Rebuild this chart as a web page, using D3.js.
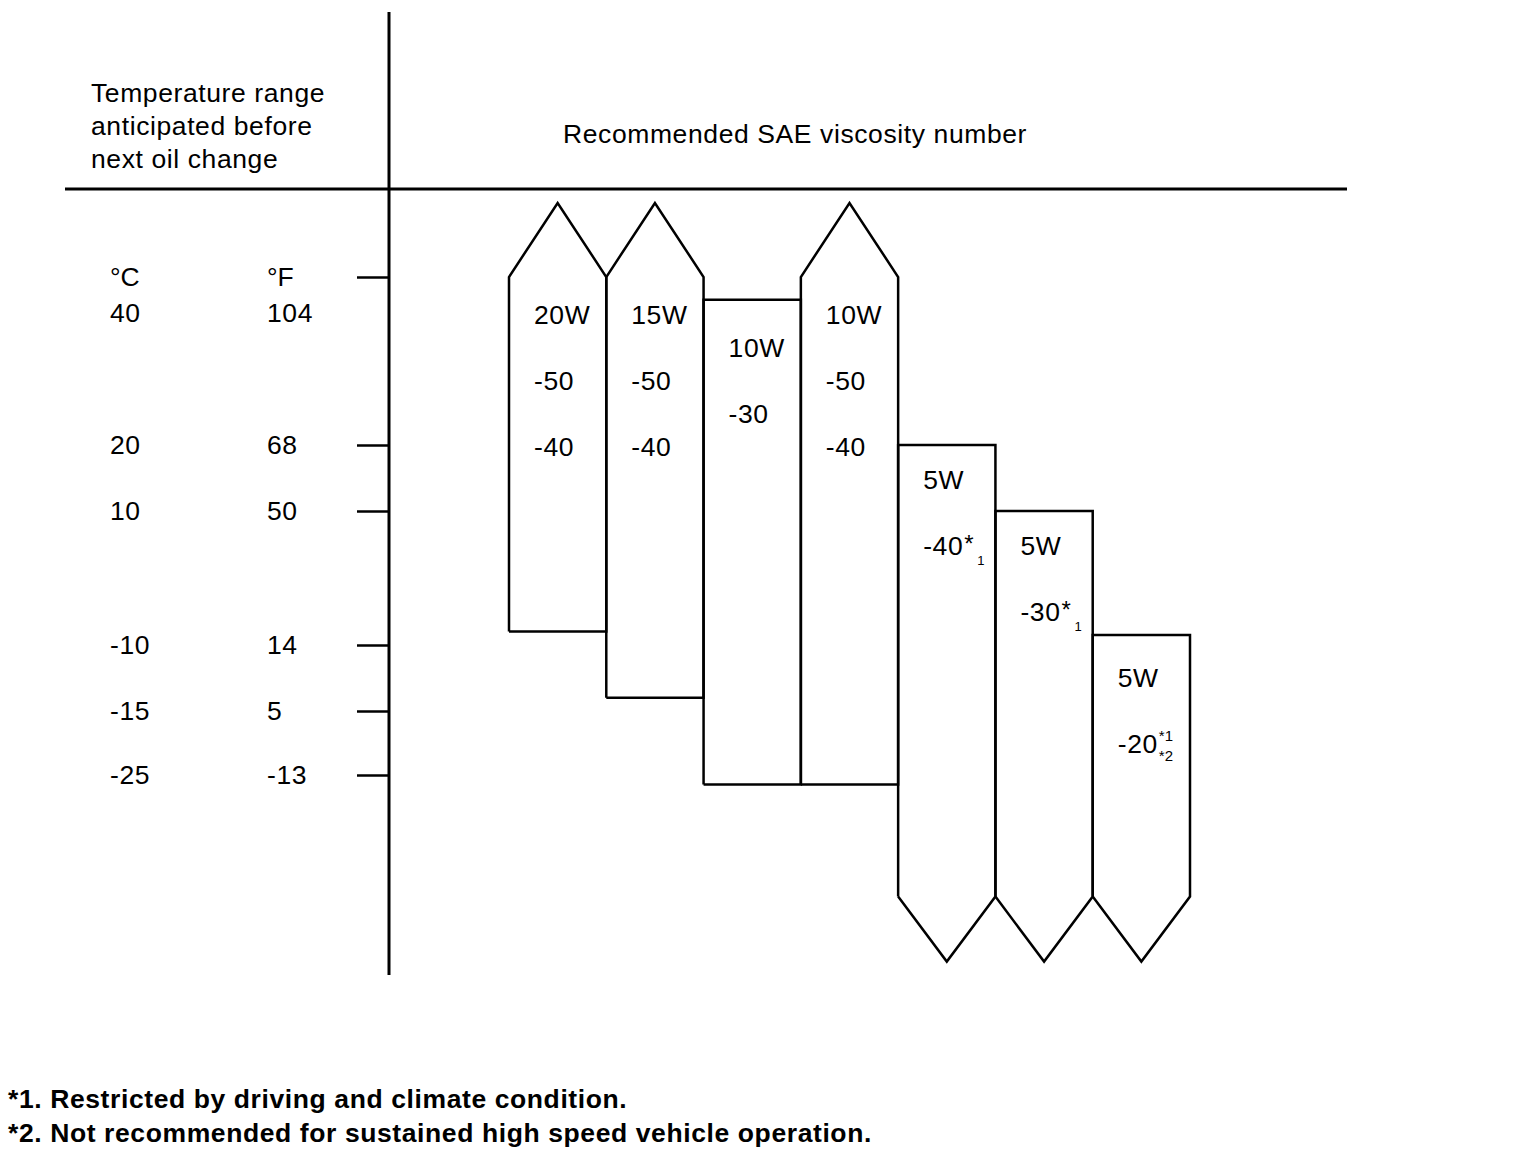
<!DOCTYPE html>
<html>
<head>
<meta charset="utf-8">
<script src="https://cdn.jsdelivr.net/npm/d3@7"></script>
<style>
  body { margin: 0; background: #fff; }
  text { font-family: "Liberation Sans", Arial, sans-serif; fill: #000; }
</style>
</head>
<body>
<div id="chart-area"></div>
<script>
/*
*    oil viscosity chart
*/
// temperature ticks
var celsius = [40, 20, 10, -10, -15, -25];
var fahrenheit = [104, 68, 50, 14, 5, -13];

// one column per oil grade
var grades = ["20W", "15W", "10W", "10W", "5W", "5W", "5W"];
var suffixes = [["-50", "-40"], ["-50", "-40"], ["-30"], ["-50", "-40"], ["-40"], ["-30"], ["-20"]];
var supNotes = ["", "", "", "", "*", "*", "*1"];
var subNotes = ["", "", "", "", "1", "1", "*2"];
var tempTop = [40, 40, 37.3, 40, 20, 10, -8.5];
var tempBottom = [-8, -14, -26.5, -26.5, -44, -44, -44];
var openTop = [true, true, false, true, false, false, false];
var openBottom = [false, false, false, false, true, true, true];

var headerLines = ["Temperature range", "anticipated before", "next oil change"];
var footnotes = ["*1. Restricted by driving and climate condition.",
  "*2. Not recommended for sustained high speed vehicle operation."];

var width = 1536, height = 1150;
var svg = d3.select("#chart-area")
  .append("svg")
    .attr("width", width)
    .attr("height", height);

// piecewise scale, the printed axis is not linear
var y = d3.scaleLinear()
  .domain(celsius)
  .range([277, 445, 511, 645, 711, 775]);

var x = d3.scaleBand()
  .domain(d3.range(grades.length))
  .range([509, 1190])
  .paddingInner(0);

var axisX = 389, lineH = 33, arrowTop = 74, arrowBottom = 65;

// frame lines
svg.append("line")
  .attr("x1", axisX).attr("x2", axisX)
  .attr("y1", 12).attr("y2", 975)
  .attr("stroke", "black").attr("stroke-width", 3);
svg.append("line")
  .attr("x1", 65).attr("x2", 1347)
  .attr("y1", 189).attr("y2", 189)
  .attr("stroke", "black").attr("stroke-width", 3);

// ticks
var yAxisCall = d3.axisLeft(y).tickValues(celsius).tickSize(32).tickFormat("");
var yAxisGroup = svg.append("g")
  .attr("transform", "translate(" + axisX + ",0)")
  .call(yAxisCall);
yAxisGroup.select(".domain").remove();
yAxisGroup.selectAll(".tick line").attr("stroke", "black").attr("stroke-width", 2.5);

var fontSize = "26.5px", spacing = "0.6px";

// header text
svg.selectAll(".header").data(headerLines).enter().append("text")
  .attr("class", "header")
  .attr("x", 91)
  .attr("y", (d, i) => 102 + i * lineH)
  .attr("font-size", fontSize)
  .attr("letter-spacing", spacing)
  .text(d => d);

svg.append("text")
  .attr("x", 563)
  .attr("y", 143)
  .attr("font-size", fontSize)
  .attr("letter-spacing", spacing)
  .text("Recommended SAE viscosity number");

// unit labels over the top tick
svg.append("text").attr("x", 110).attr("y", y(40)).attr("dy", "0.35em")
  .attr("font-size", fontSize).text("°C");
svg.append("text").attr("x", 267).attr("y", y(40)).attr("dy", "0.35em")
  .attr("font-size", fontSize).text("°F");

// tick labels, first one sits a line under the units
function labelY(d, i) { return i === 0 ? y(d) + 36 : y(d); }
svg.selectAll(".cLabel").data(celsius).enter().append("text")
  .attr("class", "cLabel")
  .attr("x", 110)
  .attr("y", labelY)
  .attr("dy", "0.35em")
  .attr("font-size", fontSize)
  .attr("letter-spacing", spacing)
  .text(d => d);
svg.selectAll(".fLabel").data(fahrenheit).enter().append("text")
  .attr("class", "fLabel")
  .attr("x", 267)
  .attr("y", (d, i) => labelY(celsius[i], i))
  .attr("dy", "0.35em")
  .attr("font-size", fontSize)
  .attr("letter-spacing", spacing)
  .text(d => d);

// grade columns
var line = d3.line();
grades.forEach((g, i) => {
  var x0 = x(i), x1 = x(i) + x.bandwidth(), xm = x0 + x.bandwidth() / 2;
  var yt = y(tempTop[i]), yb = y(tempBottom[i]);
  var pts = [[x0, yb], [x0, yt]];
  if (openTop[i]) pts.push([xm, yt - arrowTop]);
  pts.push([x1, yt], [x1, yb]);
  if (openBottom[i]) pts.push([xm, yb + arrowBottom]);
  pts.push([x0, yb]);
  svg.append("path")
    .attr("d", line(pts))
    .attr("fill", "none")
    .attr("stroke", "black")
    .attr("stroke-width", 2.5)
    .attr("stroke-linejoin", "miter");

  // labels snap to the 33px text grid
  var origin = y(40) + 38;
  var row = Math.max(0, Math.ceil((yt + 30 - origin) / lineH));
  var ty = origin + row * lineH;
  var lines = [g].concat(suffixes[i]);
  lines.forEach((t, k) => {
    var el = svg.append("text")
      .attr("x", x0 + 25)
      .attr("y", ty + k * lineH * 2)
      .attr("dy", "0.35em")
      .attr("font-size", fontSize)
      .attr("letter-spacing", spacing)
      .text(t);
    if (k === lines.length - 1 && supNotes[i]) {
      var w = el.node().getComputedTextLength();
      var base = ty + k * lineH * 2;
      var stacked = supNotes[i].length > 1;
      svg.append("text")
        .attr("x", x0 + 25 + w + 1)
        .attr("y", base + (stacked ? -3 : 6))
        .attr("font-size", stacked ? "15px" : "24px")
        .text(supNotes[i]);
      svg.append("text")
        .attr("x", x0 + 25 + w + (stacked ? 1 : 14))
        .attr("y", base + (stacked ? 17 : 19))
        .attr("font-size", stacked ? "15px" : "13px")
        .text(subNotes[i]);
    }
  });
});

// footnotes
svg.selectAll(".foot").data(footnotes).enter().append("text")
  .attr("class", "foot")
  .attr("x", 8)
  .attr("y", (d, i) => 1108 + i * 34)
  .attr("font-size", fontSize)
  .attr("font-weight", "bold")
  .attr("letter-spacing", spacing)
  .text(d => d);
</script>
</body>
</html>
